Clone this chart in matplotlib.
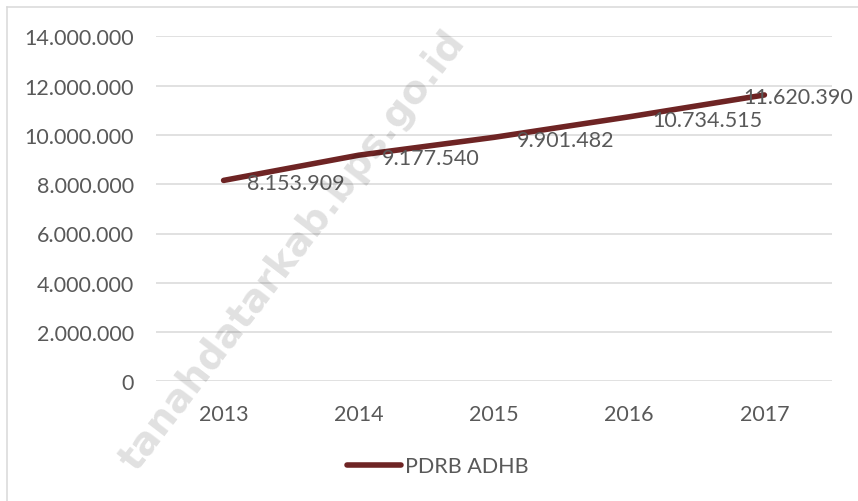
import matplotlib
matplotlib.use("Agg")
import matplotlib.pyplot as plt
from matplotlib.lines import Line2D
from matplotlib.ticker import FuncFormatter

years = ["2013", "2014", "2015", "2016", "2017"]
pdrb_adhb = [8153909, 9177540, 9901482, 10734515, 11620390]
value_labels = ["8.153.909", "9.177.540", "9.901.482", "10.734.515", "11.620.390"]
series_name = "PDRB ADHB"
y_ticks = [0, 2000000, 4000000, 6000000, 8000000, 10000000, 12000000, 14000000]

TEXT = "#595959"
GRID = "#d9d9d9"
LINE = "#6E2424"
FS = 15.5

plt.rcParams["font.family"] = ["Lato", "DejaVu Sans"]

fig = plt.figure(figsize=(8.58, 5.02), dpi=100)
W, H = 858, 502
ax = fig.add_axes([156 / W, 1 - 382.4 / H, (832 - 156) / W, (382.4 - 37.3) / H])

x = list(range(len(years)))
ax.plot(x, pdrb_adhb, color=LINE, lw=4.0, solid_capstyle="round", label=series_name, zorder=3)

ax.set_xlim(-0.5, len(years) - 0.5)
ax.set_ylim(0, 14000000)
ax.set_yticks(y_ticks)
ax.yaxis.set_major_formatter(FuncFormatter(lambda v, p: f"{int(v):,}".replace(",", ".")))
ax.set_xticks(x)
ax.set_xticklabels(years)
ax.tick_params(axis="both", length=0, labelsize=FS, labelcolor=TEXT)
ax.tick_params(axis="y", pad=16)
ax.tick_params(axis="x", pad=16)
ax.grid(axis="y", color=GRID, lw=1.1)
ax.set_axisbelow(True)
for s in ax.spines.values():
    s.set_visible(False)

for i, (v, lab) in enumerate(zip(pdrb_adhb, value_labels)):
    if i == len(years) - 1:
        ax.annotate(lab, (i, v), xytext=(89, -2), textcoords="offset pixels",
                    ha="right", va="center", fontsize=FS, color=TEXT, zorder=4,
                    annotation_clip=False)
    else:
        ax.annotate(lab, (i, v), xytext=(23, -3), textcoords="offset pixels",
                    ha="left", va="center", fontsize=FS, color=TEXT, zorder=4)

leg = fig.legend(handles=[Line2D([0], [0], color=LINE, lw=4.0, solid_capstyle="round")],
                 labels=[series_name], loc="center", bbox_to_anchor=(438 / W, 1 - 467.5 / H),
                 frameon=False, fontsize=FS, handlelength=2.5, handletextpad=0.2,
                 labelcolor=TEXT)

# chart border (left and top edges visible)
fig.add_artist(Line2D([6.8 / W, 6.8 / W], [0, 1 - 8.3 / H], color=GRID, lw=1.1))
fig.add_artist(Line2D([6.8 / W, 1], [1 - 8.3 / H, 1 - 8.3 / H], color=GRID, lw=1.1))

# watermark
fig.text(293 / W, 1 - 251 / H, "tanahdatarkab.bps.go.id", rotation=52.5, fontsize=28,
         fontweight="bold", family=["DejaVu Sans"], color="#000000", alpha=0.12,
         ha="center", va="center", rotation_mode="anchor", zorder=10)

fig.savefig("out.png", dpi=100)
